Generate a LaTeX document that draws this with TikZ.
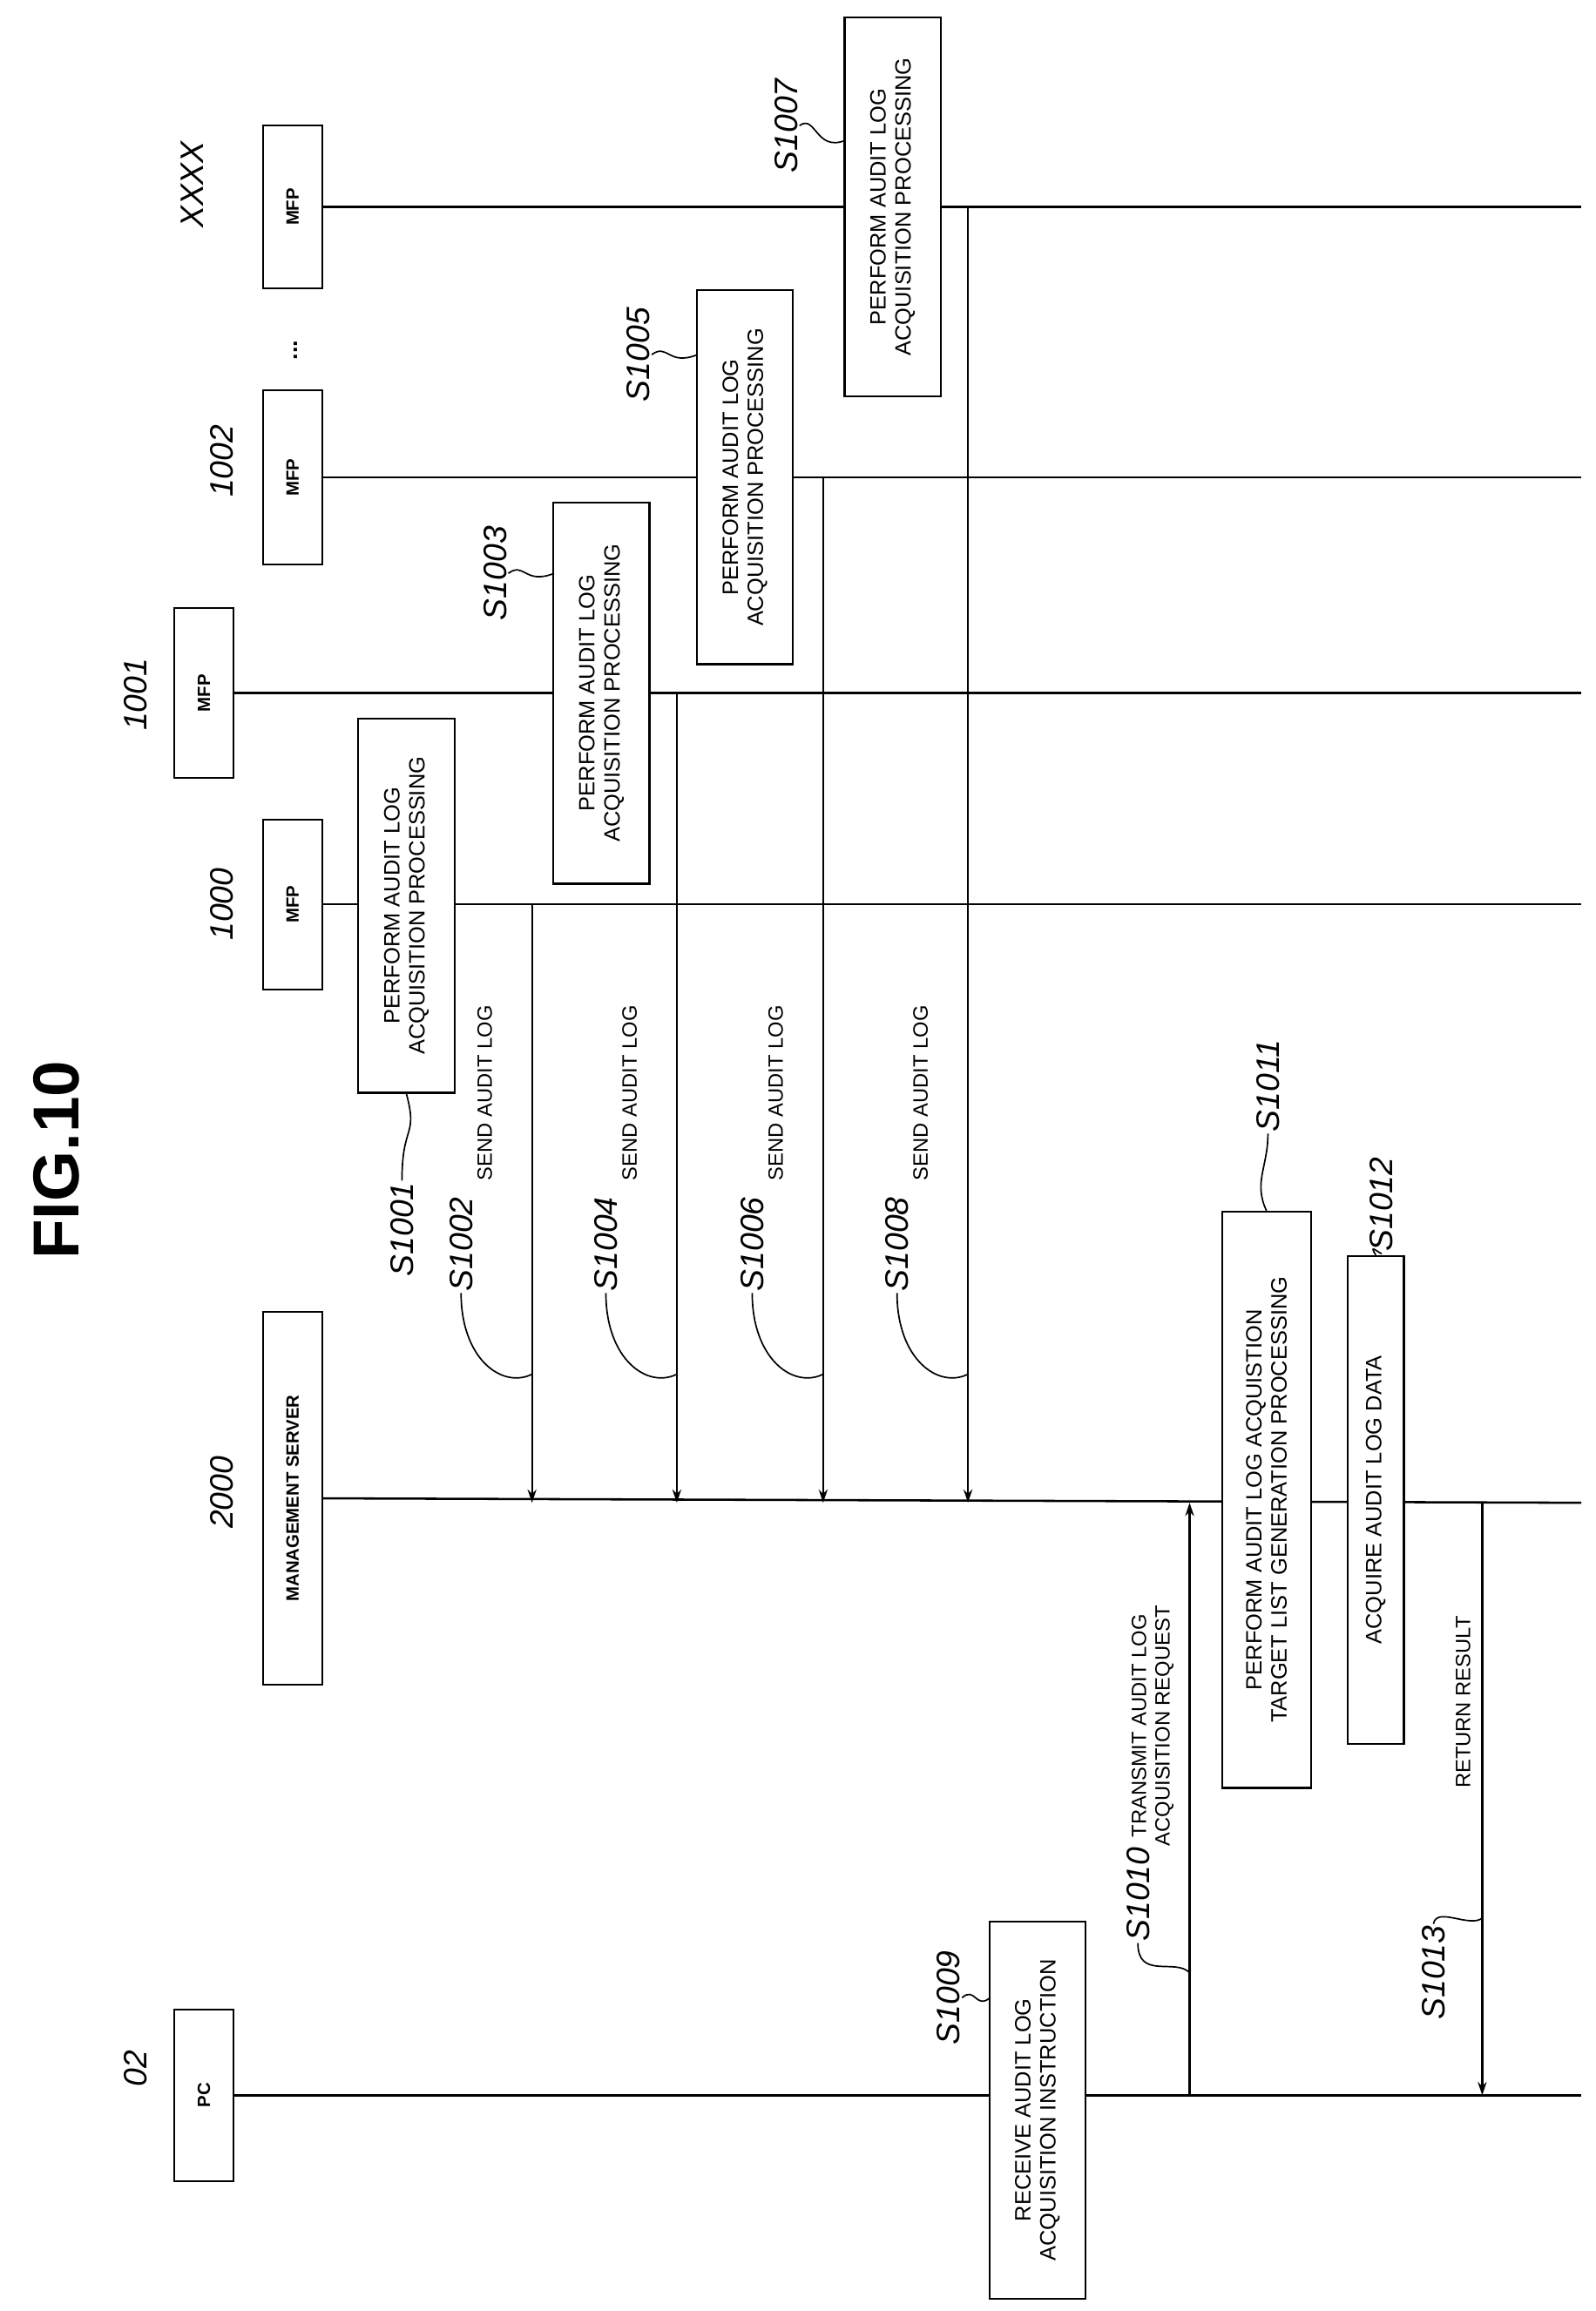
\documentclass[tikz,border=0pt]{standalone}
\usepackage{fontspec}
\setmainfont{Liberation Sans}
\usetikzlibrary{arrows.meta}
\begin{document}
\begin{tikzpicture}[x=1pt,y=-1pt,
  hd/.style={draw,line width=1.3pt,fill=white,rotate=90,inner sep=0pt,font=\fontsize{12}{13}\selectfont\bfseries},
  pr/.style={draw,line width=1.3pt,fill=white,rotate=90,inner sep=0pt,align=center,font=\fontsize{15}{17}\selectfont},
  lab/.style={rotate=90,font=\fontsize{22}{24}\selectfont\itshape,inner sep=1pt},
  ml/.style={rotate=90,font=\fontsize{14}{16}\selectfont,inner sep=1pt,align=center},
  ll/.style={line width=1.5pt},
  msg/.style={line width=1.3pt,-{Stealth[length=9pt,width=6pt]}},
  sq/.style={line width=1pt}]
\useasboundingbox (0,0) rectangle (1080,1564);
\node[rotate=90,font=\fontsize{44}{46}\selectfont\bfseries] (title) at (38,785) {FIG.10};
% heads
\node[hd,minimum width=110,minimum height=40] (mx) at (198,140) {MFP};
\node[hd,minimum width=118,minimum height=40] (m2) at (198,323) {MFP};
\node[hd,minimum width=115,minimum height=40] (m1) at (138,469) {MFP};
\node[hd,minimum width=115,minimum height=40] (m0) at (198,612) {MFP};
\node[hd,minimum width=252,minimum height=40] (ms) at (198,1014) {MANAGEMENT SERVER};
\node[hd,minimum width=116,minimum height=40] (pc) at (138,1418) {PC};
\node[rotate=90,font=\fontsize{16}{16}\selectfont\bfseries] (dots) at (200,237) {...};
% lifelines
\coordinate (ex) at (1070,140); \coordinate (e2) at (1070,323);
\coordinate (e1) at (1070,469); \coordinate (e0) at (1070,612);
\coordinate (es) at (1070,1017); \coordinate (ep) at (1070,1418);
\draw[ll] (mx.south) -- (ex); \draw[ll] (m2.south) -- (e2);
\draw[ll] (m1.south) -- (e1); \draw[ll] (m0.south) -- (e0);
\draw[ll] (ms.south) -- (es); \draw[ll] (pc.south) -- (ep);
% head labels
\node[lab] (l0) at (150,612) {1000};
\node[lab] (l1) at (92,470) {1001};
\node[lab] (l2) at (150,312) {1002};
\node[lab] (lx) at (130,125) {XXXX};
\node[lab] (ls) at (150,1010) {2000};
\node[lab] (lp) at (92,1400) {02};
% messages
\coordinate (a2s) at (360,612); \coordinate (a2e) at (360,1017);
\coordinate (a4s) at (458,469); \coordinate (a4e) at (458,1017);
\coordinate (a6s) at (557,323); \coordinate (a6e) at (557,1017);
\coordinate (a8s) at (655,140); \coordinate (a8e) at (655,1017);
\coordinate (a10s) at (805,1418); \coordinate (a10e) at (805,1017);
\coordinate (a13s) at (1003,1017); \coordinate (a13e) at (1003,1418);
\draw[msg] (a2s) -- (a2e); \draw[msg] (a4s) -- (a4e);
\draw[msg] (a6s) -- (a6e); \draw[msg] (a8s) -- (a8e);
\draw[msg] (a10s) -- (a10e); \draw[msg] (a13s) -- (a13e);
% processing boxes
\node[pr,minimum width=253,minimum height=65] (p1) at (275,613) {PERFORM AUDIT LOG\\ACQUISITION PROCESSING};
\node[pr,minimum width=258,minimum height=65] (p3) at (407,469) {PERFORM AUDIT LOG\\ACQUISITION PROCESSING};
\node[pr,minimum width=253,minimum height=65] (p5) at (504,323) {PERFORM AUDIT LOG\\ACQUISITION PROCESSING};
\node[pr,minimum width=256,minimum height=65] (p7) at (604,140) {PERFORM AUDIT LOG\\ACQUISITION PROCESSING};
\node[pr,minimum width=390,minimum height=60] (p11) at (857,1015) {PERFORM AUDIT LOG ACQUISTION\\TARGET LIST GENERATION PROCESSING};
\node[pr,minimum width=330,minimum height=38] (p12) at (931,1015) {ACQUIRE AUDIT LOG DATA};
\node[pr,minimum width=255,minimum height=65] (p9) at (702,1428) {RECEIVE AUDIT LOG\\ACQUISITION INSTRUCTION};
% step labels
\node[lab] (s1) at (272,832) {S1001};
\node[lab] (s3) at (335,388) {S1003};
\node[lab] (s5) at (432,240) {S1005};
\node[lab] (s7) at (532,85) {S1007};
\node[lab] (s11) at (858,735) {S1011};
\node[lab] (s12) at (935,815) {S1012};
\node[lab] (s9) at (642,1352) {S1009};
\node[lab] (s10) at (770,1282) {S1010};
\node[lab] (s13) at (970,1335) {S1013};
\node[lab] (s2) at (312,842) {S1002};
\node[lab] (s4) at (410,842) {S1004};
\node[lab] (s6) at (509,842) {S1006};
\node[lab] (s8) at (607,842) {S1008};
% message labels
\node[ml,anchor=west] (t2) at (328,800) {SEND AUDIT LOG};
\node[ml,anchor=west] (t4) at (426,800) {SEND AUDIT LOG};
\node[ml,anchor=west] (t6) at (525,800) {SEND AUDIT LOG};
\node[ml,anchor=west] (t8) at (623,800) {SEND AUDIT LOG};
\node[ml] (t10) at (780,1168) {TRANSMIT AUDIT LOG\\ACQUISITION REQUEST};
\node[ml] (t13) at (990,1152) {RETURN RESULT};
% squiggle ends
\coordinate (q10) at (805,1335); \coordinate (q13) at (1003,1298);
\coordinate (q2) at (360,930); \coordinate (q4) at (458,930);
\coordinate (q6) at (557,930); \coordinate (q8) at (655,930);
\coordinate (q3) at (375,388); \coordinate (q5) at (472,240);
\coordinate (q7) at (572,95); \coordinate (q9) at (670,1352);
% squiggles
\draw[sq] (s1.east) .. controls (272,760) and (283,770) .. (p1.west);
\draw[sq] (s3.south) .. controls (355,380) and (355,396) .. (q3);
\draw[sq] (s5.south) .. controls (452,232) and (452,248) .. (q5);
\draw[sq] (s7.south) .. controls (552,77) and (552,103) .. (q7);
\draw[sq] (s11.west) .. controls (858,790) and (848,800) .. (p11.east);
\draw[sq] (s12.west) .. controls (935,850) and (925,840) .. (p12.east);
\draw[sq] (s9.south) .. controls (660,1344) and (660,1360) .. (q9);
\draw[sq] (s10.west) .. controls (770,1340) and (795,1325) .. (q10);
\draw[sq] (s13.east) .. controls (972,1290) and (995,1305) .. (q13);
\draw[sq] (s2.west) .. controls (312,920) and (340,940) .. (q2);
\draw[sq] (s4.west) .. controls (410,920) and (438,940) .. (q4);
\draw[sq] (s6.west) .. controls (509,920) and (537,940) .. (q6);
\draw[sq] (s8.west) .. controls (607,920) and (635,940) .. (q8);
\end{tikzpicture}
\end{document}
